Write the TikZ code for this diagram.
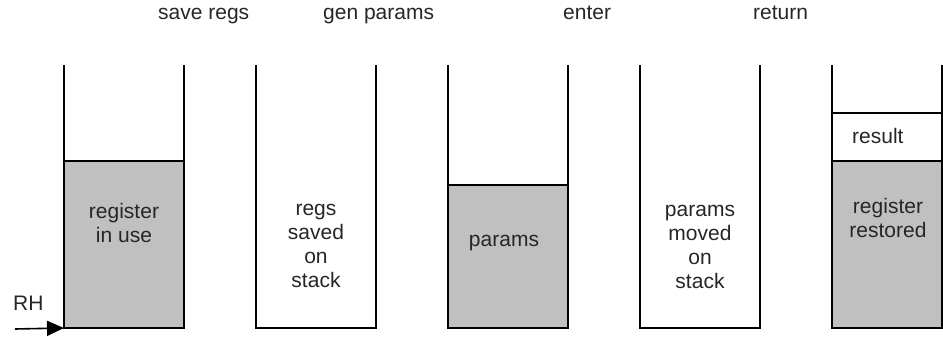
\documentclass[tikz,border=0pt]{standalone}
\usepackage{fontspec}
\setmainfont{Liberation Sans}
\usetikzlibrary{arrows.meta}
\definecolor{stackgray}{RGB}{192,192,192}
\begin{document}
\begin{tikzpicture}[x=1pt,y=-1pt,
  wall/.style={line width=1.8pt, line join=miter},
  filled/.style={fill=stackgray},
  lbl/.style={font=\fontsize{21}{24}\selectfont, align=center, inner sep=0pt, text=black!85},
  arr/.style={line width=1.6pt, -{Triangle[length=17pt,width=15pt]}}]
\useasboundingbox (0,0) rectangle (943,337);

% box 1
\fill[filled] (64,161) rectangle (184,328);
\draw[wall] (64,65) -- (64,328) coordinate (b1bl) -- (184,328) -- (184,65);
\draw[wall] (64,161) -- (184,161);
% box 2
\draw[wall] (256,65) -- (256,328) -- (376,328) -- (376,65);
% box 3
\fill[filled] (448,185) rectangle (568,328);
\draw[wall] (448,65) -- (448,328) -- (568,328) -- (568,65);
\draw[wall] (448,185) -- (568,185);
% box 4
\draw[wall] (640,65) -- (640,328) -- (760,328) -- (760,65);
% box 5
\fill[filled] (832,161) rectangle (942,328);
\draw[wall] (832,65) -- (832,328) -- (942,328) -- (942,65);
\draw[wall] (832,113) -- (942,113);
\draw[wall] (832,161) -- (942,161);

% top labels
\node[lbl, anchor=base west] (t1) at (158,20) {save regs};
\node[lbl, anchor=base west] (t2) at (323,20) {gen params};
\node[lbl, anchor=base west] (t3) at (563,20) {enter};
\node[lbl, anchor=base west] (t4) at (753,20) {return};

% contents (base anchor = baseline of last line)
\node[lbl, anchor=base] (c1) at (124,242) {register\\in use};
\node[lbl, anchor=base] (c2) at (316,287) {regs\\saved\\on\\stack};
\node[lbl, anchor=base] (c3) at (504,246) {params};
\node[lbl, anchor=base] (c4) at (700,288) {params\\moved\\on\\stack};
\node[lbl, anchor=base west] (c5) at (852,143) {result};
\node[lbl, anchor=base] (c6) at (888,237) {register\\restored};

% RH
\node[lbl, anchor=base west] (rh) at (13,310) {RH};
\coordinate (rhstart) at (15,329);
\draw[arr] (rhstart) -- (b1bl);
\end{tikzpicture}
\end{document}
